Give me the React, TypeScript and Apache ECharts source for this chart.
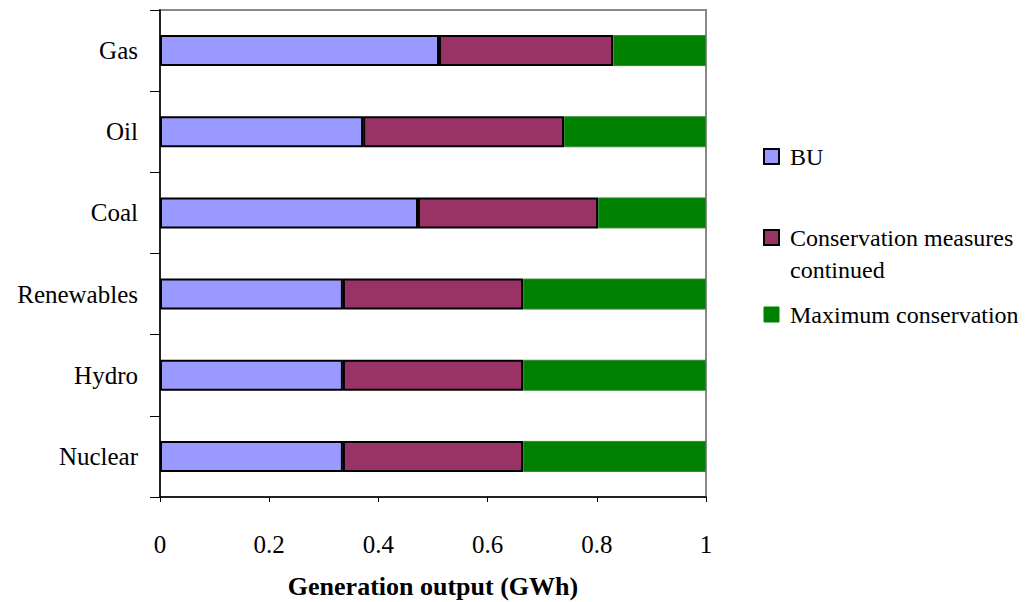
import React, { useEffect, useRef } from "react";
import * as echarts from "echarts";

const categories = ["Nuclear", "Hydro", "Renewables", "Coal", "Oil", "Gas"];
const buValues = [0.335, 0.335, 0.335, 0.4725, 0.372, 0.511];
const conservationContinued = [0.33, 0.33, 0.33, 0.33, 0.368, 0.319];
const maxConservation = [0.335, 0.335, 0.335, 0.1975, 0.26, 0.17];
const seriesNames = ["BU", "Conservation measures\ncontinued", "Maximum conservation"];
const colors = ["#9999FF", "#993366", "#008000"];

const FONT = "Liberation Serif";

export default function App() {
  const ref = useRef<HTMLDivElement>(null);
  useEffect(() => {
    if (!ref.current) return;
    const chart = echarts.init(ref.current, undefined, { renderer: "svg" });
    const legendY = [157, 238, 315];
    const legendGraphics: any[] = [];
    seriesNames.forEach((name, i) => {
      legendGraphics.push({
        type: "rect",
        shape: { x: 764, y: legendY[i] - 8, width: 15, height: 15 },
        style: {
          fill: colors[i],
          stroke: i < 2 ? "#000" : colors[i],
          lineWidth: i < 2 ? 2 : 1,
        },
      });
      legendGraphics.push({
        type: "text",
        x: 790,
        y: legendY[i] - 16,
        style: {
          text: name,
          fontSize: 24,
          fontFamily: FONT,
          fill: "#000",
          lineHeight: 32,
        },
      });
    });
    chart.setOption({
      animation: false,
      textStyle: { fontFamily: FONT },
      grid: {
        left: 160,
        top: 10,
        width: 546,
        height: 487,
        outerBoundsMode: "none",
        containLabel: false,
        show: true,
        borderColor: "#888",
        borderWidth: 2,
        backgroundColor: "transparent",
      },
      xAxis: {
        type: "value",
        min: 0,
        max: 1,
        interval: 0.2,
        splitLine: { show: false },
        axisLine: { show: true, lineStyle: { color: "#000", width: 1.5 } },
        axisTick: { show: true, length: 5, lineStyle: { color: "#000" } },
        axisLabel: { color: "#000", fontSize: 25, fontFamily: FONT, margin: 35 },
        name: "Generation output (GWh)",
        nameLocation: "middle",
        nameGap: 76,
        nameTextStyle: { color: "#000", fontSize: 26, fontWeight: "bold", fontFamily: FONT },
      },
      yAxis: {
        type: "category",
        data: categories,
        axisLine: { show: true, lineStyle: { color: "#000", width: 1.5 } },
        axisTick: { show: true, length: 10, lineStyle: { color: "#000" } },
        axisLabel: { color: "#000", fontSize: 25, fontFamily: FONT, margin: 22 },
      },
      series: [
        {
          name: "BU",
          type: "bar",
          stack: "total",
          barWidth: 31,
          data: buValues,
          itemStyle: { color: colors[0], borderColor: "#000", borderWidth: 2 },
        },
        {
          name: "Conservation measures continued",
          type: "bar",
          stack: "total",
          barWidth: 31,
          data: conservationContinued,
          itemStyle: { color: colors[1], borderColor: "#000", borderWidth: 2 },
        },
        {
          name: "Maximum conservation",
          type: "bar",
          stack: "total",
          barWidth: 31,
          data: maxConservation,
          itemStyle: { color: colors[2], borderColor: "#2e8b2e", borderWidth: 1 },
        },
      ],
      graphic: legendGraphics,
    });
    return () => chart.dispose();
  }, []);
  return (
    <div
      ref={ref}
      style={{ position: "fixed", left: 0, top: 0, width: 1027, height: 602, background: "#fff" }}
    />
  );
}
